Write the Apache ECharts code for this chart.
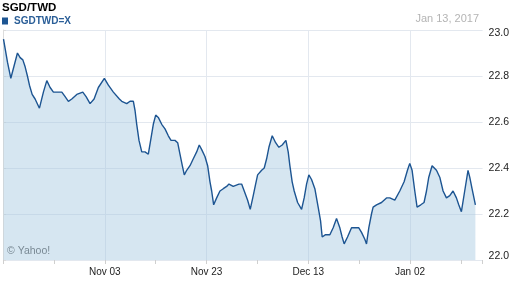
<!DOCTYPE html>
<html><head><meta charset="utf-8">
<script src="https://cdn.jsdelivr.net/npm/echarts@6/dist/echarts.min.js"></script>
<style>html,body{margin:0;padding:0;background:#fff}#c{width:512px;height:288px}</style>
</head><body><div id="c"></div>
<script>
// Days since Oct 14, 2016 and SGD/TWD rates
const days = [0.1,0.88,1.54,2.84,3.37,3.9,4.35,4.8,5.2,5.73,6.31,7.16,7.94,8.61,9.26,9.91,10.58,11.56,12.21,12.85,13.52,14.5,15.68,16.33,17.11,17.9,18.74,19.92,20.71,21.69,22.87,
23.34,24.32,24.97,25.62,25.95,26.28,26.73,27.27,27.91,28.56,29.09,29.54,30.01,30.52,31.19,31.84,32.49,33.02,33.8,34.33,34.78,35.24,35.63,36.1,36.75,37.4,38.06,38.57,39.05,39.69,40.22,40.68,41.01,41.4,41.99,42.64,43.29,43.95,44.41,45.25,46.37,
46.9,47.41,48.08,48.59,49.18,49.65,50.04,50.83,51.34,51.81,52.26,52.91,53.58,54.22,54.87,55.6,56.05,56.38,56.83,57.23,57.9,58.68,59.19,59.66,60.11,60.64,61.29,61.94,62.41,62.73,63.39,64.24,64.89,65.55,66.2,66.65,67.05,67.71,68.5,69.15,69.93,
70.46,71.11,71.44,71.89,72.42,72.74,73.41,74.39,75.37,76.02,77.0,77.98,78.83,79.49,79.94,80.4,80.93,81.38,82.11,82.75,83.23,83.68,84.33,85.19,85.84,86.49,87.15,87.8,88.45,89.11,89.57,90.09,90.74,91.39,91.73,92.18,92.84];
const rates = [22.96,22.86,22.79,22.90,22.88,22.87,22.84,22.80,22.76,22.72,22.70,22.66,22.73,22.78,22.75,22.73,22.73,22.73,22.71,22.69,22.70,22.72,22.73,22.71,22.68,22.70,22.75,22.79,22.76,22.73,22.70,
22.69,22.68,22.69,22.69,22.65,22.59,22.52,22.47,22.47,22.46,22.53,22.59,22.63,22.62,22.59,22.57,22.54,22.52,22.52,22.51,22.46,22.41,22.37,22.39,22.41,22.44,22.47,22.50,22.48,22.45,22.41,22.34,22.30,22.24,22.27,22.30,22.31,22.32,22.33,22.32,22.33,
22.33,22.30,22.26,22.22,22.28,22.33,22.37,22.39,22.40,22.44,22.49,22.54,22.51,22.49,22.50,22.52,22.47,22.41,22.34,22.30,22.25,22.22,22.27,22.33,22.37,22.35,22.31,22.23,22.17,22.10,22.11,22.11,22.14,22.18,22.14,22.10,22.07,22.10,22.14,22.14,22.14,
22.12,22.09,22.07,22.14,22.20,22.23,22.24,22.25,22.27,22.27,22.26,22.30,22.34,22.39,22.42,22.39,22.30,22.23,22.24,22.25,22.30,22.36,22.41,22.39,22.36,22.30,22.27,22.28,22.30,22.27,22.24,22.21,22.30,22.39,22.36,22.31,22.24];
const yTicks = [22.0,22.2,22.4,22.6,22.8,23.0];
const xLabelDays = [20,40,60,80];
const startDate = Date.UTC(2016,9,14);
const months = ['Jan','Feb','Mar','Apr','May','Jun','Jul','Aug','Sep','Oct','Nov','Dec'];
function dayLabel(d){
  const dt = new Date(startDate + d*86400000);
  const dd = dt.getUTCDate();
  return months[dt.getUTCMonth()] + ' ' + (dd<10?'0':'') + dd;
}
const FONT = 'Liberation Sans, Arial, sans-serif';
const chart = echarts.init(document.getElementById('c'), null, {renderer:'canvas'});
chart.setOption({
  animation:false,
  title:[
    {text:'SGD/TWD', left:2, top:2, padding:0, textStyle:{fontFamily:FONT,fontSize:11.5,fontWeight:'bold',color:'#000'}},
    {text:'Jan 13, 2017', right:33, top:13, padding:0, textStyle:{fontFamily:FONT,fontSize:11,fontWeight:'normal',color:'#b4b4b4'}}
  ],
  legend:{data:['SGDTWD=X'], left:2, top:16, padding:0, icon:'rect', itemWidth:6, itemHeight:7, itemGap:0,
    textStyle:{fontFamily:FONT,fontSize:10,fontWeight:'bold',color:'#2a5e97',padding:[0,0,0,1]}},
  graphic:[{type:'text', left:7, top:246, style:{text:'© Yahoo!', fill:'#555', font:'10.5px '+FONT}}],
  grid:{left:3, right:29, top:30, bottom:28},
  xAxis:[
    {type:'value', min:0, max:94.25, interval:20,
     axisLine:{show:false}, axisTick:{show:false},
     axisLabel:{margin:7, fontFamily:FONT, fontSize:10, color:'#222',
       formatter:function(v){return xLabelDays.indexOf(v)>=0 ? dayLabel(v) : '';}},
     splitLine:{show:true, showMinLine:false, showMaxLine:false, lineStyle:{color:'#e3e8ef', width:1}}},
    {type:'value', min:0, max:94.25, interval:10, position:'bottom',
     axisLine:{show:false}, axisLabel:{show:false}, splitLine:{show:false},
     axisTick:{show:true, length:4, lineStyle:{color:'#cfcfcf'}}}
  ],
  yAxis:{type:'value', position:'right', min:22, max:23, interval:0.2,
    axisLine:{show:true, lineStyle:{color:'#dcdcdc'}},
    axisTick:{show:true, length:3, lineStyle:{color:'#dcdcdc'}},
    axisLabel:{margin:6, fontFamily:FONT, fontSize:10.5, color:'#222',
      formatter:function(v){
        const s = v.toFixed(1);
        if (s === yTicks[yTicks.length-1].toFixed(1)) return '{t|'+s+'}';
        if (s === yTicks[0].toFixed(1)) return '{b|'+s+'}';
        return s;
      },
      rich:{t:{padding:[7,0,0,0],fontFamily:FONT,fontSize:10.5,color:'#222'},
            b:{padding:[0,0,7,0],fontFamily:FONT,fontSize:10.5,color:'#222'}}},
    splitLine:{show:true, lineStyle:{color:'#e3e8ef', width:1}}},
  series:[{name:'SGDTWD=X', type:'line', xAxisIndex:0,
    data:days.map((d,i)=>[d,rates[i]]),
    showSymbol:false, symbol:'none',
    itemStyle:{color:'#1d5592'},
    lineStyle:{color:'#1d5592', width:1.4},
    areaStyle:{color:'rgba(163,199,224,0.45)', opacity:1, origin:'start'}}]
});
</script></body></html>
